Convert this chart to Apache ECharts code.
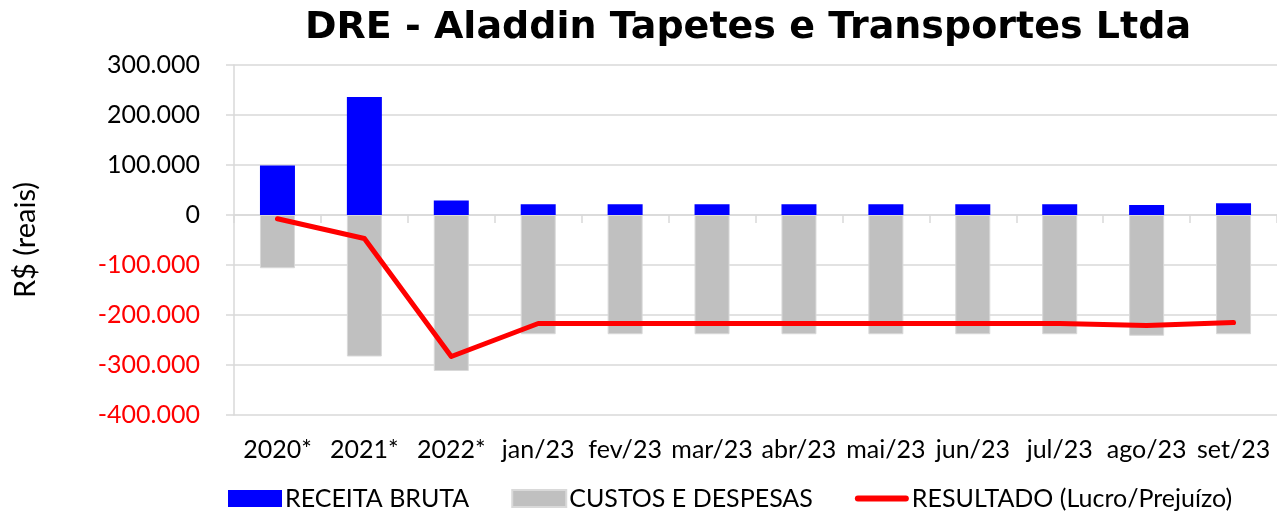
<!DOCTYPE html>
<html>
<head>
<meta charset="utf-8">
<script src="https://cdn.jsdelivr.net/npm/echarts@6/dist/echarts.min.js"></script>
<style>
  html, body { margin: 0; padding: 0; background: #fff; }
  #main { width: 1277px; height: 513px; }
</style>
</head>
<body>
<div id="main"></div>
<script>
var categories = ["2020*", "2021*", "2022*", "jan/23", "fev/23", "mar/23", "abr/23", "mai/23", "jun/23", "jul/23", "ago/23", "set/23"];
var receitaBruta = [99000, 236000, 29000, 21500, 21500, 21500, 21500, 21500, 21500, 21500, 20000, 23500];
var custosDespesas = [-106500, -283000, -312000, -238500, -238500, -238500, -238500, -238500, -238500, -238500, -241500, -238500];
var resultado = [-7500, -47000, -283000, -217000, -217000, -217000, -217000, -217000, -217000, -217000, -221000, -215000];

var labelFont = "Lato";

function fmt(v) {
  var s = String(Math.abs(v)).replace(/\B(?=(\d{3})+(?!\d))/g, ".");
  return v < 0 ? "-" + s : s;
}

var mycharts = echarts.init(document.getElementById("main"));
mycharts.setOption({
  animation: false,
  title: {
    text: "DRE - Aladdin Tapetes e Transportes Ltda",
    left: 743,
    textAlign: "center",
    top: 4,
    textStyle: {
      fontFamily: "DejaVu Sans",
      fontWeight: "bold",
      fontSize: 38,
      color: "#000"
    }
  },
  legend: {
    left: 228,
    bottom: 2,
    padding: 0,
    itemWidth: 54,
    itemHeight: 17,
    itemGap: 42,
    textStyle: {
      fontFamily: labelFont,
      fontSize: 25,
      color: "#000",
      padding: [0, 0, 0, -2]
    },
    data: [
      { name: "RECEITA BRUTA", icon: "rect" },
      { name: "CUSTOS E DESPESAS", icon: "rect" },
      {
        name: "RESULTADO (Lucro/Prejuízo)",
        icon: "path://M3,0 H51 A3,3 0 0 1 51,6 H3 A3,3 0 0 1 3,0 Z",
        itemStyle: { color: "#ff0000" }
      }
    ]
  },
  grid: {
    left: 234,
    top: 65,
    bottom: 98,
    width: 1047
  },
  xAxis: [
    {
      type: "category",
      data: categories,
      axisLine: { show: false, onZero: false },
      axisTick: { show: false },
      axisLabel: {
        margin: 22,
        fontFamily: labelFont,
        fontSize: 25,
        color: "#000",
        interval: 0
      }
    },
    {
      type: "category",
      data: categories,
      position: "bottom",
      axisLine: { show: true, onZero: true, lineStyle: { color: "#d9d9d9", width: 1.5 } },
      axisTick: { show: true, length: 8, lineStyle: { color: "#d9d9d9", width: 1.5 } },
      axisLabel: { show: false }
    }
  ],
  yAxis: {
    type: "value",
    min: -400000,
    max: 300000,
    interval: 100000,
    name: "R$ (reais)",
    nameLocation: "middle",
    nameGap: 194,
    nameTextStyle: {
      fontFamily: labelFont,
      fontSize: 29,
      color: "#000"
    },
    axisLine: { show: true, lineStyle: { color: "#d9d9d9", width: 1.5 } },
    axisTick: { show: true, length: 8, lineStyle: { color: "#d9d9d9", width: 1.5 } },
    splitLine: { lineStyle: { color: "#d9d9d9", width: 1.5 } },
    axisLabel: {
      margin: 34,
      fontFamily: labelFont,
      fontSize: 25,
      formatter: fmt,
      color: function (v) {
        return Number(v) < 0 ? "#ff0000" : "#000";
      }
    }
  },
  series: [
    {
      name: "RECEITA BRUTA",
      type: "bar",
      barWidth: 35,
      barGap: "-100%",
      itemStyle: { color: "#0000ff" },
      data: receitaBruta
    },
    {
      name: "CUSTOS E DESPESAS",
      type: "bar",
      barWidth: 35,
      barGap: "-100%",
      itemStyle: { color: "#c0c0c0", borderColor: "#d9d9d9", borderWidth: 1 },
      data: custosDespesas
    },
    {
      name: "RESULTADO (Lucro/Prejuízo)",
      type: "line",
      showSymbol: false,
      symbol: "none",
      itemStyle: { color: "#ff0000" },
      lineStyle: { color: "#ff0000", width: 5, cap: "round", join: "round" },
      data: resultado,
      z: 5
    }
  ]
});
</script>
</body>
</html>
